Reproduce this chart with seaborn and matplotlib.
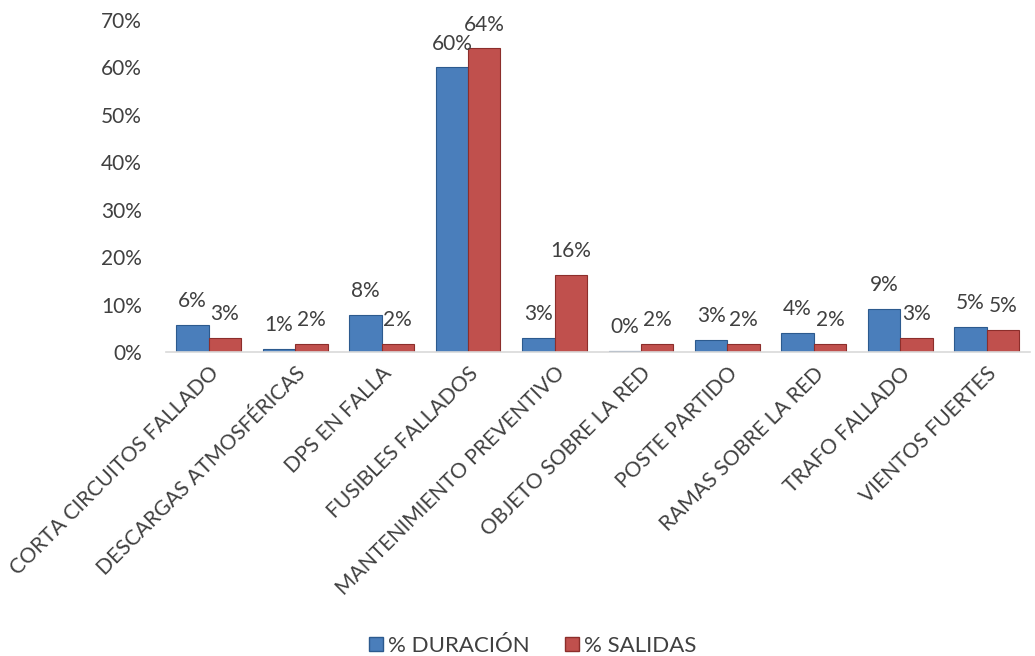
import matplotlib
matplotlib.use("Agg")
import matplotlib.pyplot as plt
import seaborn as sns
import pandas as pd
from matplotlib.ticker import FuncFormatter
from matplotlib.patches import Patch

categorias = ["CORTA CIRCUITOS FALLADO", "DESCARGAS ATMOSFÉRICAS", "DPS EN FALLA",
              "FUSIBLES FALLADOS", "MANTENIMIENTO PREVENTIVO", "OBJETO SOBRE LA RED",
              "POSTE PARTIDO", "RAMAS SOBRE LA RED", "TRAFO FALLADO", "VIENTOS FUERTES"]
duracion = [5.8, 0.7, 7.9, 60.0, 2.9, 0.2, 2.6, 4.1, 9.0, 5.3]
salidas = [3.0, 1.7, 1.7, 64.0, 16.3, 1.7, 1.7, 1.7, 3.0, 4.7]
series = ["% DURACIÓN", "% SALIDAS"]
colores = ["#4A7EBB", "#C0504D"]
bordes = ["#2C5A8E", "#8C2E2B"]

df = pd.DataFrame({
    "cat": categorias * 2,
    "val": duracion + salidas,
    "serie": [series[0]] * len(categorias) + [series[1]] * len(categorias),
})

sns.set_style("white")
plt.rcParams["font.family"] = ["Lato", "DejaVu Sans"]
txt = "#404040"

fig = plt.figure(figsize=(10.35, 6.56), dpi=100)
ax = fig.add_axes([0.160, 0.4634, 0.835, 0.5061])
sns.barplot(data=df, x="cat", y="val", hue="serie", palette=colores,
            width=0.75, ax=ax, legend=False, saturation=1)

n = len(categorias)
for i, p in enumerate(ax.patches[:2 * n]):
    s = i // n
    p.set_edgecolor(bordes[s])
    p.set_linewidth(0.8)

for s, cont in enumerate(ax.containers):
    vals = duracion if s == 0 else salidas
    ax.bar_label(cont, labels=[f"{round(v):.0f}%" for v in vals], padding=10,
                 fontsize=15, color=txt)

ax.set_ylim(0, 70)
ax.set_xlim(-0.5, n - 0.5)
ax.set_yticks(range(0, 71, 10))
ax.yaxis.set_major_formatter(FuncFormatter(lambda v, _: f"{v:.0f}%"))
ax.tick_params(axis="y", labelsize=15, labelcolor=txt, length=0, pad=17)
ax.tick_params(axis="x", labelsize=15.2, labelcolor=txt, length=0, pad=8)
ax.set_xticks(range(n))
ax.set_xticklabels(categorias, rotation=45, ha="right", rotation_mode="anchor")
ax.set_xlabel("")
ax.set_ylabel("")
for side in ["top", "right", "left"]:
    ax.spines[side].set_visible(False)
ax.spines["bottom"].set_color("#D9D9D9")
ax.spines["bottom"].set_linewidth(1.2)

handles = [Patch(facecolor=colores[k], edgecolor=bordes[k], label=series[k]) for k in range(2)]
fig.legend(handles=handles, loc="center", bbox_to_anchor=(0.515, 0.016), ncol=2,
           frameon=False, fontsize=16, labelcolor=txt, handlelength=0.6,
           handleheight=0.6, handletextpad=0.25, columnspacing=1.6)

fig.savefig("out.png", dpi=100)
